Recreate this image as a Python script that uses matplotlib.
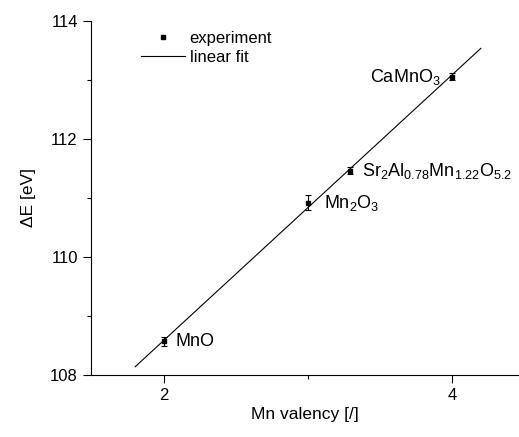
import matplotlib
matplotlib.use('Agg')
import matplotlib.pyplot as plt
from matplotlib.lines import Line2D

plt.rcParams['font.family'] = ['Liberation Sans', 'DejaVu Sans']
plt.rcParams['mathtext.fontset'] = 'custom'
plt.rcParams['mathtext.rm'] = 'Liberation Sans'
plt.rcParams['mathtext.it'] = 'Liberation Sans'
plt.rcParams['mathtext.default'] = 'rm'

# data
valency = [2.0, 3.0, 3.29, 4.0]
dE = [108.57, 110.92, 111.46, 113.05]
dE_err = [0.08, 0.12, 0.06, 0.06]
names = ['MnO', 'Mn$_2$O$_3$', 'Sr$_2$Al$_{0.78}$Mn$_{1.22}$O$_{5.2}$', 'CaMnO$_3$']

# linear fit line ends
fit_x = [1.80, 4.20]
fit_y = [108.14, 113.53]

fig = plt.figure(figsize=(5.19, 4.37), dpi=100)
ax = fig.add_axes([0.1753, 0.1419, 0.8247, 0.811])

ax.plot(fit_x, fit_y, color='black', lw=0.8)
ax.errorbar(valency, dE, yerr=dE_err, fmt='s', color='black', ms=3.5,
            elinewidth=0.8, capsize=2.2, capthick=0.8)

# labels next to points
ax.text(2.08, dE[0], names[0], fontsize=13, va='center', ha='left')
ax.text(3.11, dE[1], names[1], fontsize=13, va='center', ha='left')
ax.text(3.375, dE[2], names[2], fontsize=13, va='center', ha='left')
ax.text(3.92, dE[3], names[3], fontsize=13, va='center', ha='right')

ax.set_xlim(1.493, 4.465)
ax.set_ylim(108, 114)
ax.set_xticks([2, 4])
ax.set_xticks([3], minor=True)
ax.set_yticks([108, 110, 112, 114])
ax.set_yticks([109, 111, 113], minor=True)
ax.tick_params(which='major', direction='out', length=6, width=0.8, labelsize=12)
ax.tick_params(which='minor', direction='out', length=3, width=0.8)

for s in ['top', 'right']:
    ax.spines[s].set_visible(False)
for s in ['left', 'bottom']:
    ax.spines[s].set_linewidth(0.8)

ax.set_xlabel('Mn valency [/]', fontsize=12.5, labelpad=3)
ax.set_ylabel('ΔE [eV]', fontsize=12.5, labelpad=10)

handles = [Line2D([], [], ls='none', marker='s', ms=3.5, color='black'),
           Line2D([], [], color='black', lw=0.8)]
ax.legend(handles, ['experiment', 'linear fit'], loc='upper left',
          bbox_to_anchor=(0.11, 0.98), frameon=False, fontsize=12,
          handlelength=2.6, handletextpad=0.3, labelspacing=0.25,
          borderpad=0.2, borderaxespad=0)

fig.savefig('out.png', dpi=100)
